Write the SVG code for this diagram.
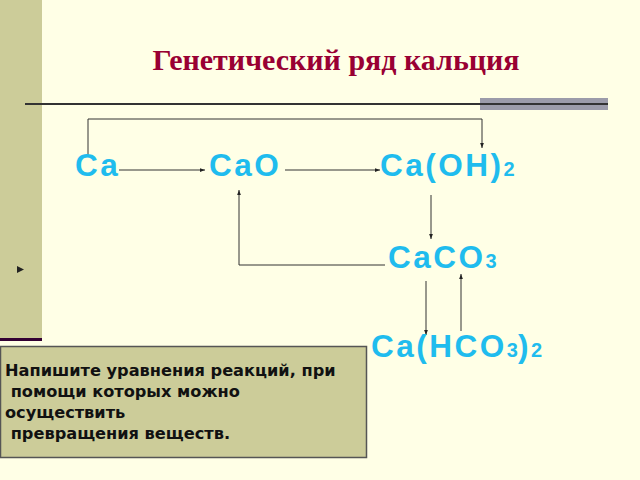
<svg xmlns="http://www.w3.org/2000/svg" width="640" height="480" viewBox="0 0 640 480">
<defs>
<marker id="ah" viewBox="0 0 8 6" refX="8" refY="3" markerWidth="5" markerHeight="4" orient="auto" markerUnits="userSpaceOnUse">
<path d="M0,0 L8,3 L0,6 z" fill="#222"/>
</marker>
<style>
.f{font-family:"Liberation Sans",Arial,sans-serif;font-weight:bold;font-size:31.5px;fill:#1FBCEE;letter-spacing:2.5px}
.s{font-size:20px;letter-spacing:0}
.c{fill:none;stroke:#333;stroke-width:1}
.a{marker-end:url(#ah)}
.b{font-family:"DejaVu Sans",Tahoma,sans-serif;font-weight:bold;font-size:16.2px;fill:#111}
</style>
</defs>
<rect width="640" height="480" fill="#FFFFE6"/>
<rect x="0" y="0" width="42" height="340" fill="#CCCC99"/>
<rect x="0" y="338" width="42" height="3" fill="#330033"/>
<path d="M17,266 L24,269.5 L17,273 z" fill="#222"/>
<text x="336" y="70" text-anchor="middle" font-family="Liberation Serif,'Times New Roman',serif" font-weight="bold" font-size="30" fill="#990033">Генетический ряд кальция</text>
<rect x="480" y="98" width="128" height="12" fill="#9C9CAA"/>
<line x1="25" y1="104" x2="608" y2="104" stroke="#333" stroke-width="2"/>
<g id="connectors">
<polyline class="c a" points="88,156 88,119 482,119 482,148"/>
<line class="c a" x1="119" y1="170" x2="205" y2="170"/>
<line class="c a" x1="285" y1="170" x2="380" y2="170"/>
<line class="c a" x1="431" y1="195" x2="431" y2="239"/>
<polyline class="c a" points="385,265 239,265 239,190"/>
<line class="c a" x1="426" y1="281" x2="426" y2="335"/>
<line class="c a" x1="461" y1="331" x2="461" y2="274"/>
</g>
<g id="n-ca"><text class="f" x="75" y="176">Ca</text></g>
<g id="n-cao"><text class="f" x="209" y="176">CaO</text></g>
<g id="n-caoh2"><text class="f" x="380" y="176">Ca(OH)<tspan class="s">2</tspan></text></g>
<g id="n-caco3"><text class="f" x="388" y="268">CaCO<tspan class="s">3</tspan></text></g>
<g id="n-cahco32"><text class="f" x="371" y="357">Ca(HCO<tspan class="s">3</tspan>)<tspan class="s">2</tspan></text></g>
<g id="task">
<rect x="0.5" y="346.5" width="366" height="111" fill="#CCCC99" stroke="#555" stroke-width="1.5"/>
<text class="b" x="5" y="376">Напишите уравнения реакций, при</text>
<text class="b" x="5" y="397" xml:space="preserve"> помощи которых можно</text>
<text class="b" x="5" y="418">осуществить</text>
<text class="b" x="5" y="439" xml:space="preserve"> превращения веществ.</text>
</g>
</svg>
